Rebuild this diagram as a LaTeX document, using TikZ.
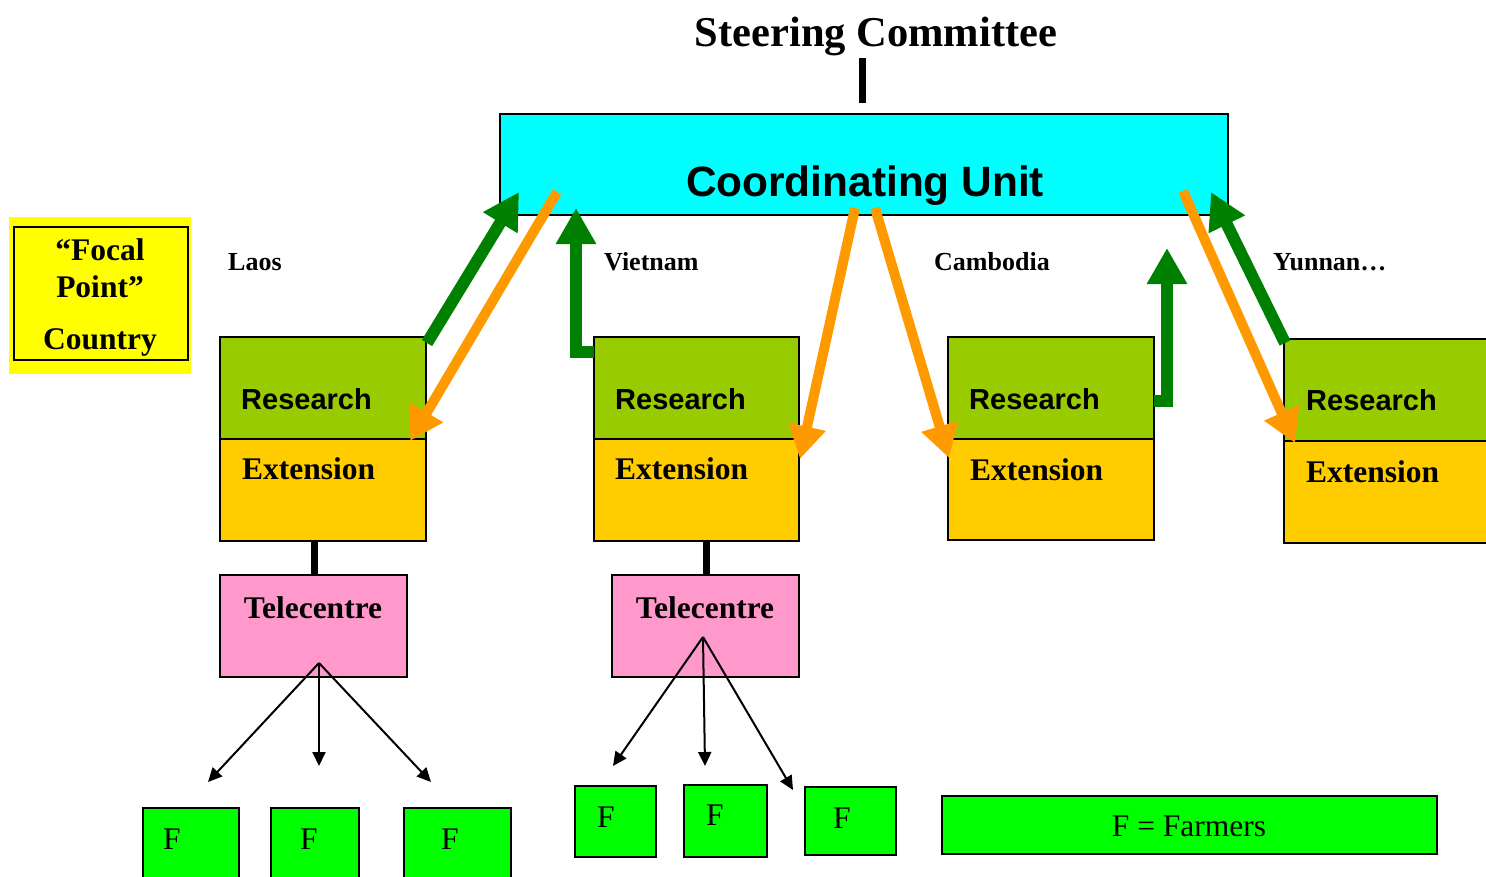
\documentclass[tikz,border=0pt]{standalone}
\usepackage{fontspec}
\setmainfont{Liberation Serif}
\newfontfamily\arialfont{Liberation Sans}
\usetikzlibrary{arrows.meta}

\definecolor{cuCyan}{HTML}{00FFFF}
\definecolor{resGreen}{HTML}{99CC00}
\definecolor{extGold}{HTML}{FFCC00}
\definecolor{telePink}{HTML}{FF99CC}
\definecolor{farmGreen}{HTML}{00FF00}
\definecolor{upGreen}{HTML}{008000}
\definecolor{downOrange}{HTML}{FF9900}
\definecolor{focalYellow}{HTML}{FFFF00}

\newcommand{\fsz}[1]{\fontsize{#1}{#1}\selectfont}

\begin{document}
\begin{tikzpicture}[x=1pt,y=-1pt,
  box/.style={draw=black, line width=2pt, inner sep=0pt, outer sep=0pt, anchor=north west},
  resbox/.style={box, fill=resGreen, minimum height=102pt},
  extbox/.style={box, fill=extGold, minimum height=102pt},
  telebox/.style={box, fill=telePink, minimum width=187pt, minimum height=102pt},
  farmbox/.style={box, fill=farmGreen},
  restext/.style={anchor=base west, inner sep=0pt, font=\arialfont\bfseries\fsz{29}},
  exttext/.style={anchor=base west, inner sep=0pt, font=\bfseries\fsz{31.5}},
  teletext/.style={anchor=base, inner sep=0pt, font=\bfseries\fsz{31.5}},
  ftext/.style={anchor=base west, inner sep=0pt, font=\fsz{31.5}},
  country/.style={anchor=base west, inner sep=0pt, font=\bfseries\fsz{26}},
  focaltext/.style={anchor=base, inner sep=0pt, font=\bfseries\fsz{31.5}},
  uparrow/.style={draw=upGreen, line width=12pt, line join=miter, -{Triangle[length=36pt,width=38pt]}},
  downarrow/.style={draw=downOrange, line width=10pt, -{Triangle[length=33pt,width=36pt]}},
  farrow/.style={draw=black, line width=2pt, -{Triangle[length=14pt,width=13pt]}},
  stem/.style={draw=black, line width=7pt}
]
\useasboundingbox (0,0) rectangle (1486,876);
\clip (0,0) rectangle (1486,876);

% ---------- top: steering committee and coordinating unit ----------
\node[anchor=base, inner sep=0pt, font=\bfseries\fsz{42.5}] (steer) at (876,46) {Steering Committee};
\node[box, fill=cuCyan, minimum width=728pt, minimum height=101pt] (cu) at (500,114) {};
\node[anchor=base, inner sep=0pt, font=\arialfont\bfseries\fsz{42.4}] (cutext) at (865,196) {Coordinating Unit};
\coordinate (steerTop) at (862,58);
\coordinate (steerBot) at (862,103);
\draw[stem] (steerTop) -- (steerBot);

% ---------- focal point key ----------
\fill[focalYellow] (9,217) rectangle (191,374);
\node[box, line width=2.5pt, minimum width=174pt, minimum height=133pt] (focal) at (14,227) {};
\node[focaltext] (focal1) at (100,260) {“Focal};
\node[focaltext] (focal2) at (100,297) {Point”};
\node[focaltext] (focal3) at (100,349) {Country};

% ---------- country labels ----------
\node[country] (laos) at (228,270) {Laos};
\node[country] (vietnam) at (604,270) {Vietnam};
\node[country] (cambodia) at (934,270) {Cambodia};
\node[country] (yunnan) at (1273,270) {Yunnan…};

% ---------- research / extension blocks ----------
\node[resbox, minimum width=206pt] (resL) at (220,337) {};
\node[extbox, minimum width=206pt] (extL) at (220,439) {};
\node[resbox, minimum width=205pt] (resV) at (594,337) {};
\node[extbox, minimum width=205pt] (extV) at (594,439) {};
\node[resbox, minimum width=206pt] (resC) at (948,337) {};
\node[extbox, minimum width=206pt, minimum height=101pt] (extC) at (948,439) {};
\node[resbox, minimum width=230pt] (resY) at (1284,339) {};
\node[extbox, minimum width=230pt] (extY) at (1284,441) {};

\node[restext] at (241,409) {Research};
\node[exttext] at (242,479) {Extension};
\node[restext] at (615,409) {Research};
\node[exttext] at (615,479) {Extension};
\node[restext] at (969,409) {Research};
\node[exttext] at (970,480) {Extension};
\node[restext] at (1306,410) {Research};
\node[exttext] at (1306,482) {Extension};

% ---------- telecentres ----------
\node[telebox] (teleL) at (220,575) {};
\node[telebox] (teleV) at (612,575) {};
\node[teletext] at (313,618) {Telecentre};
\node[teletext] at (705,618) {Telecentre};
\draw[stem] (extL.south -| 314,0) -- (teleL.north -| 314,0);
\draw[stem] (extV.south -| 706,0) -- (teleV.north -| 706,0);

% ---------- farmers ----------
\node[farmbox, minimum width=96pt, minimum height=90pt] (fL1) at (143,808) {};
\node[farmbox, minimum width=88pt, minimum height=90pt] (fL2) at (271,808) {};
\node[farmbox, minimum width=107pt, minimum height=90pt] (fL3) at (404,808) {};
\node[ftext] at (163,849) {F};
\node[ftext] at (300,849) {F};
\node[ftext] at (441,849) {F};

\node[farmbox, minimum width=81pt, minimum height=71pt] (fV1) at (575,786) {};
\node[farmbox, minimum width=83pt, minimum height=72pt] (fV2) at (684,785) {};
\node[farmbox, minimum width=91pt, minimum height=68pt] (fV3) at (805,787) {};
\node[ftext] at (597,827) {F};
\node[ftext] at (706,825) {F};
\node[ftext] at (833,828) {F};

\node[farmbox, minimum width=495pt, minimum height=58pt] (legend) at (942,796) {};
\node[anchor=base, inner sep=0pt, font=\fsz{31.5}] at (1189,836) {F = Farmers};

% ---------- telecentre to farmer arrows ----------
\coordinate (hubL) at (319,663);
\coordinate (toL1) at (208,782);
\coordinate (toL2) at (319,766);
\coordinate (toL3) at (431,782);
\draw[farrow] (hubL) -- (toL1);
\draw[farrow] (hubL) -- (toL2);
\draw[farrow] (hubL) -- (toL3);

\coordinate (hubV) at (703,637);
\coordinate (toV1) at (613,766);
\coordinate (toV2) at (705,766);
\coordinate (toV3) at (793,790);
\draw[farrow] (hubV) -- (toV1);
\draw[farrow] (hubV) -- (toV2);
\draw[farrow] (hubV) -- (toV3);

% ---------- reporting (green) and guidance (orange) arrows ----------
\coordinate (gL0) at (427,343);  \coordinate (gL1) at (519,192);
\coordinate (gV0) at (594,352);  \coordinate (gV1) at (576,352);  \coordinate (gV2) at (576,208);
\coordinate (gC0) at (1154,401); \coordinate (gC1) at (1167,401); \coordinate (gC2) at (1167,248);
\coordinate (gY0) at (1285,343); \coordinate (gY1) at (1211,192);
\draw[uparrow] (gL0) -- (gL1);
\draw[uparrow] (gV0) -- (gV1) -- (gV2);
\draw[uparrow] (gC0) -- (gC1) -- (gC2);
\draw[uparrow] (gY0) -- (gY1);

\coordinate (oL0) at (557,192);  \coordinate (oL1) at (410,441);
\coordinate (oV0) at (855,208);  \coordinate (oV1) at (800,459);
\coordinate (oC0) at (875,208);  \coordinate (oC1) at (949,458);
\coordinate (oY0) at (1183,191); \coordinate (oY1) at (1295,443);
\draw[downarrow] (oL0) -- (oL1);
\draw[downarrow] (oV0) -- (oV1);
\draw[downarrow] (oC0) -- (oC1);
\draw[downarrow] (oY0) -- (oY1);
\end{tikzpicture}
\end{document}
